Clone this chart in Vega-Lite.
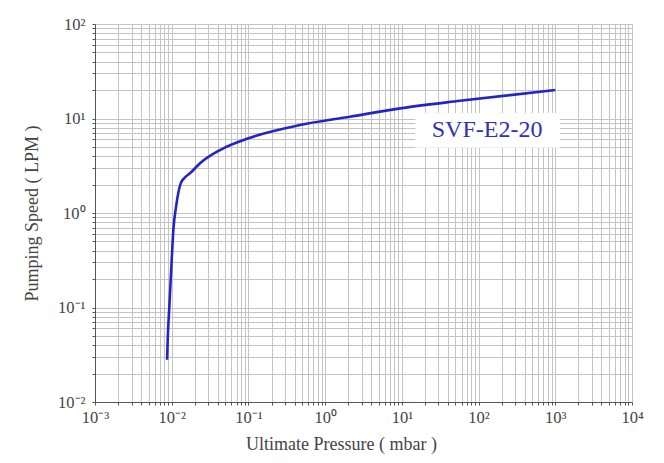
{
  "$schema": "https://vega.github.io/schema/vega-lite/v6.json",
  "width": 537,
  "height": 378,
  "autosize": "none",
  "padding": {"left": 95, "top": 24, "right": 32, "bottom": 61},
  "background": "#ffffff",
  "config": {
    "view": {"stroke": null},
    "axis": {
      "grid": true,
      "gridColor": "#c4c4c4",
      "gridWidth": 1,
      "domainColor": "#555555",
      "tickColor": "#555555",
      "tickSize": 3,
      "labelFont": "Liberation Serif",
      "labelFontSize": 16.5,
      "labelColor": "#444444",
      "titleFont": "Liberation Serif",
      "titleFontSize": 18,
      "titleFontWeight": "normal",
      "titleColor": "#444444",
      "labelOverlap": false,
      "labelBound": false,
      "labelFlush": false
    }
  },
  "datasets": {
    "curve": [
      {"pressure": 0.0087, "speed": 0.028},
      {"pressure": 0.0089, "speed": 0.05},
      {"pressure": 0.0093, "speed": 0.1},
      {"pressure": 0.0100, "speed": 0.32},
      {"pressure": 0.0105, "speed": 0.66},
      {"pressure": 0.0114, "speed": 1.17},
      {"pressure": 0.0131, "speed": 2.06},
      {"pressure": 0.0149, "speed": 2.38},
      {"pressure": 0.0173, "speed": 2.63},
      {"pressure": 0.0234, "speed": 3.36},
      {"pressure": 0.0427, "speed": 4.64},
      {"pressure": 0.105, "speed": 6.26},
      {"pressure": 0.471, "speed": 8.53},
      {"pressure": 2.11, "speed": 10.45},
      {"pressure": 9.48, "speed": 12.8},
      {"pressure": 57.4, "speed": 15.4},
      {"pressure": 1000, "speed": 20.0}
    ],
    "label": [
      {"x1": 15, "x2": 1150, "y1": 4.9, "y2": 11.4, "xc": 129, "yc": 7.55, "text": "SVF-E2-20"}
    ]
  },
  "layer": [
    {
      "data": {"name": "curve"},
      "mark": {"type": "line", "color": "#2424c4", "strokeWidth": 2.6, "interpolate": "monotone"},
      "encoding": {
        "x": {
          "field": "pressure", "type": "quantitative",
          "scale": {"type": "log", "domain": [0.001, 10000]},
          "axis": {
            "title": "Ultimate Pressure ( mbar )",
            "titlePadding": 10,
            "titleX": 246,
            "labelPadding": 4,
            "values": [0.001,0.002,0.003,0.004,0.005,0.006,0.007,0.008,0.009,0.01,0.02,0.03,0.04,0.05,0.06,0.07,0.08,0.09,0.1,0.2,0.3,0.4,0.5,0.6,0.7,0.8,0.9,1,2,3,4,5,6,7,8,9,10,20,30,40,50,60,70,80,90,100,200,300,400,500,600,700,800,900,1000,2000,3000,4000,5000,6000,7000,8000,9000,10000],
            "labelExpr": "abs(log(datum.value)/LN10 - round(log(datum.value)/LN10)) < 0.01 ? '10' + ['⁻³','⁻²','⁻¹','⁰','¹','²','³','⁴'][round(log(datum.value)/LN10)+3] : ''"
          }
        },
        "y": {
          "field": "speed", "type": "quantitative",
          "scale": {"type": "log", "domain": [0.01, 100]},
          "axis": {
            "title": "Pumping Speed ( LPM )",
            "titlePadding": 16,
            "labelPadding": 7,
            "values": [0.01,0.02,0.03,0.04,0.05,0.06,0.07,0.08,0.09,0.1,0.2,0.3,0.4,0.5,0.6,0.7,0.8,0.9,1,2,3,4,5,6,7,8,9,10,20,30,40,50,60,70,80,90,100],
            "labelExpr": "abs(log(datum.value)/LN10 - round(log(datum.value)/LN10)) < 0.01 ? '10' + ['⁻²','⁻¹','⁰','¹','²'][round(log(datum.value)/LN10)+2] : ''"
          }
        }
      }
    },
    {
      "data": {"name": "label"},
      "mark": {"type": "rect", "fill": "#ffffff"},
      "encoding": {
        "x": {"field": "x1", "type": "quantitative"},
        "x2": {"field": "x2"},
        "y": {"field": "y1", "type": "quantitative"},
        "y2": {"field": "y2"}
      }
    },
    {
      "data": {"name": "label"},
      "mark": {"type": "text", "font": "Liberation Serif", "fontSize": 24, "color": "#3030b4", "align": "center", "baseline": "middle"},
      "encoding": {
        "x": {"field": "xc", "type": "quantitative"},
        "y": {"field": "yc", "type": "quantitative"},
        "text": {"field": "text"}
      }
    }
  ]
}
